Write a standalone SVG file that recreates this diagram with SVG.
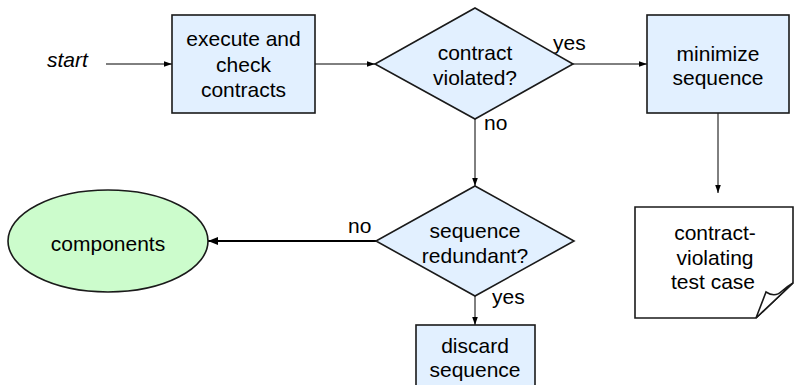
<svg xmlns="http://www.w3.org/2000/svg" width="794" height="385" viewBox="0 0 794 385">
  <defs>
    <marker id="arrow" markerUnits="userSpaceOnUse" markerWidth="8" markerHeight="8" viewBox="0 0 8 8" refX="8" refY="4" orient="auto">
      <path d="M0,1.2 L8,4 L0,6.8 Z" fill="#000"/>
    </marker>
    <marker id="arrow-bold" markerUnits="userSpaceOnUse" markerWidth="10" markerHeight="10" viewBox="0 0 10 10" refX="10" refY="5" orient="auto">
      <path d="M0,1 L10,5 L0,9 Z" fill="#000"/>
    </marker>
  </defs>
  <style>
    text { font-family: "Liberation Sans", Arial, sans-serif; font-size: 21px; fill: #000; }
    .c { text-anchor: middle; }
    .process { fill: #e2f0ff; stroke: #1a1a1a; stroke-width: 1.6; }
    .decision { fill: #e2f0ff; stroke: #1a1a1a; stroke-width: 1.6; }
    .terminal { fill: #ccfccc; stroke: #1a1a1a; stroke-width: 1.6; }
    .doc { fill: #ffffff; stroke: #1a1a1a; stroke-width: 1.6; }
    .flow { fill: none; stroke: #000; stroke-width: 1; marker-end: url(#arrow); }
    .flow-bold { fill: none; stroke: #000; stroke-width: 2.2; marker-end: url(#arrow-bold); }
  </style>
  <rect width="794" height="385" fill="#ffffff"/>

  <!-- connectors -->
  <g id="connectors">
    <line class="flow" x1="106" y1="64" x2="172" y2="64"/>
    <line class="flow" x1="315" y1="64" x2="375" y2="64"/>
    <line class="flow" x1="573" y1="64" x2="647" y2="64"/>
    <line class="flow" x1="475" y1="119" x2="475" y2="186"/>
    <line class="flow" x1="718" y1="113" x2="718" y2="193"/>
    <line class="flow-bold" x1="376" y1="241" x2="208" y2="241"/>
    <line class="flow" x1="475" y1="296" x2="475" y2="325"/>
    <text x="553" y="50">yes</text>
    <text x="484" y="130">no</text>
    <text x="348" y="233">no</text>
    <text x="492" y="304">yes</text>
  </g>

  <g id="start">
    <text x="47" y="67" font-style="italic">start</text>
  </g>

  <g id="execute">
    <rect class="process" x="172" y="15" width="143" height="98"/>
    <text class="c" x="243.5" y="46">execute and</text>
    <text class="c" x="243.5" y="72">check</text>
    <text class="c" x="243.5" y="97">contracts</text>
  </g>

  <g id="violated">
    <polygon class="decision" points="475,8 573,64 475,119 375,64"/>
    <text class="c" x="475" y="60">contract</text>
    <text class="c" x="475" y="85">violated?</text>
  </g>

  <g id="minimize">
    <rect class="process" x="647" y="15" width="142" height="98"/>
    <text class="c" x="718" y="61">minimize</text>
    <text class="c" x="718" y="85">sequence</text>
  </g>

  <g id="testcase">
    <path class="doc" d="M635,207 H793 V283 L756,318 H635 Z"/>
    <path class="doc" d="M756,318 L766,292 Q775,298 782,291 Q788,286 793,283 Z"/>
    <text class="c" x="715" y="240">contract-</text>
    <text class="c" x="715" y="265">violating</text>
    <text class="c" x="713" y="289">test case</text>
  </g>

  <g id="redundant">
    <polygon class="decision" points="475,186 574,241 475,296 376,241"/>
    <text class="c" x="475" y="238">sequence</text>
    <text class="c" x="475" y="263">redundant?</text>
  </g>

  <g id="components">
    <ellipse class="terminal" cx="108" cy="241" rx="100" ry="51"/>
    <text class="c" x="108" y="251">components</text>
  </g>

  <g id="discard">
    <rect class="process" x="416" y="325" width="119" height="70"/>
    <text class="c" x="475" y="353">discard</text>
    <text class="c" x="475" y="377">sequence</text>
  </g>
</svg>
